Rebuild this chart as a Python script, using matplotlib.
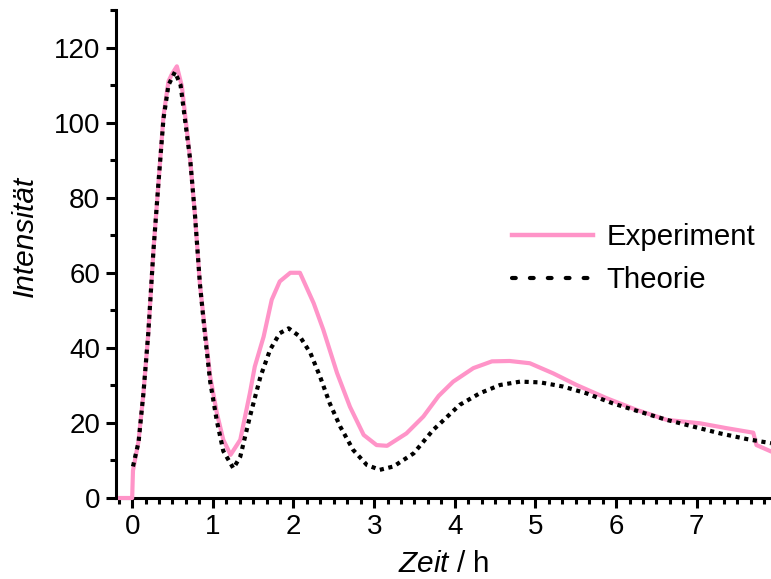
import numpy as np
import matplotlib
matplotlib.use('Agg')
import matplotlib.pyplot as plt
from matplotlib.lines import Line2D

plt.rcParams['font.family'] = ['Liberation Sans', 'DejaVu Sans']
plt.rcParams['mathtext.fontset'] = 'custom'
plt.rcParams['mathtext.rm'] = 'Liberation Sans'
plt.rcParams['mathtext.it'] = 'Liberation Sans:italic'

# experiment (pink, solid)
exp_t = [-0.15, 0.0, 0.01, 0.078, 0.14, 0.20, 0.264, 0.326, 0.388, 0.45, 0.49, 0.554,
         0.616, 0.72, 0.78, 0.84, 0.905, 0.967, 1.05, 1.13, 1.22, 1.34, 1.46, 1.52,
         1.63, 1.73, 1.83, 1.96, 2.08, 2.25, 2.37, 2.54, 2.70, 2.87, 3.03, 3.16,
         3.40, 3.61, 3.80, 3.98, 4.23, 4.46, 4.68, 4.93, 5.22, 5.51, 5.88, 6.25,
         6.63, 7.04, 7.37, 7.70, 7.74, 7.92]
exp_i = [0, 0, 7.3, 15, 27.9, 43.9, 66, 83.9, 101.7, 111, 112.8, 115,
         109.7, 90, 75, 57, 44, 32.4, 22.6, 15.5, 11.5, 15.5, 28, 35,
         43, 52.8, 57.7, 60, 60, 51.9, 44.8, 33.3, 24.3, 16.8, 14.1, 13.9,
         17.2, 21.7, 27.2, 31, 34.6, 36.4, 36.5, 35.9, 33.2, 30.1, 26.6, 23.5,
         20.8, 19.9, 18.6, 17.4, 14.1, 12.4]

# theory (black, dotted)
th_t = [0.01, 0.08, 0.14, 0.20, 0.264, 0.326, 0.388, 0.45, 0.53, 0.60, 0.72, 0.78,
        0.84, 0.905, 0.967, 1.05, 1.13, 1.255, 1.34, 1.46, 1.59, 1.71, 1.83, 1.94,
        2.08, 2.21, 2.33, 2.45, 2.58, 2.74, 2.91, 3.07, 3.24, 3.49, 3.73, 3.82,
        4.06, 4.31, 4.56, 4.81, 5.06, 5.34, 5.63, 5.96, 6.29, 6.63, 6.96, 7.29,
        7.62, 7.92]
th_i = [8.4, 15, 28, 44, 66, 84, 101, 110, 113.5, 110, 90, 75,
        57, 43, 31, 20.5, 12.5, 7.9, 11, 21.7, 32.3, 39.5, 43.9, 45.2,
        43, 38.6, 32.3, 25.2, 19, 12.8, 8.8, 7.5, 8.4, 11.9, 18.1, 19.9,
        24.8, 27.9, 30.1, 31, 30.8, 29.7, 27.9, 25.2, 23, 20.8, 19, 17.2,
        15.7, 14.6]

pink = '#ff94c8'

fig = plt.figure(figsize=(7.71, 5.79), dpi=100)
ax = fig.add_axes([0.1505, 0.1399, 0.8495, 0.8428])

ax.plot(exp_t, exp_i, color=pink, lw=3.0, zorder=3, clip_on=False)
ax.plot(th_t, th_i, color='black', lw=3.0, linestyle=(0, (1, 1.1)),
        dash_capstyle='butt', zorder=4)

ax.set_xlim(-0.2, 7.92)
ax.set_ylim(0, 130)
ax.set_xticks(range(0, 8))
ax.set_xticks(np.arange(-1, 48) / 6, minor=True)
ax.set_yticks(range(0, 121, 20))
ax.set_yticks(range(0, 131, 10), minor=True)

for s in ['top', 'right']:
    ax.spines[s].set_visible(False)
for s in ['left', 'bottom']:
    ax.spines[s].set_linewidth(2.2)

ax.tick_params(which='major', length=7.5, width=2.2, labelsize=20, pad=4)
ax.tick_params(which='minor', length=4, width=2.2)

ax.set_xlabel(r'$Zeit$ / h', fontsize=21.4, labelpad=7)
ax.set_ylabel('Intensität', fontsize=21.5, fontstyle='italic')
ax.yaxis.set_label_coords(-0.118, 0.535)

handles = [Line2D([], [], color=pink, lw=3.2),
           Line2D([], [], color='black', lw=3.0, linestyle=(0, (0.9, 3.4)),
                  dash_capstyle='round')]
ax.legend(handles, ['Experiment', 'Theorie'], loc='center left',
          bbox_to_anchor=(0.664, 0.553), bbox_transform=fig.transFigure,
          frameon=False, fontsize=21.2, handlelength=2.75, handletextpad=0.45,
          labelspacing=0.5, borderpad=0, borderaxespad=0)

fig.savefig('out.png', dpi=100)
